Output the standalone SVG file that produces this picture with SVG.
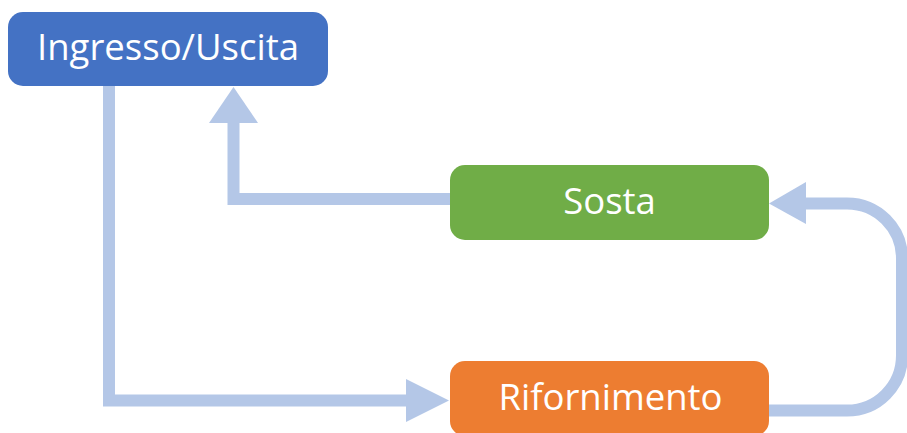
<svg xmlns="http://www.w3.org/2000/svg" width="907" height="433" viewBox="0 0 907 433">
<style>
.lbl{font-family:"Open Sans","Noto Sans","Liberation Sans",sans-serif;font-size:36.5px;fill:#fff;text-anchor:middle}
.con{fill:none;stroke:#B4C7E7;stroke-width:12}
.head{fill:#B4C7E7}
</style>
<rect width="907" height="433" fill="#fff"/>
<g id="connectors">
<path class="con" d="M109,86 V400.5 H410"/>
<polygon class="head" points="406,379 449,400.5 406,422"/>
<path class="con" d="M450,199 H233.5 V120"/>
<polygon class="head" points="209,123 233.5,87 258,123"/>
<path class="con" d="M769,410.5 H847 A55,55 0 0 0 902,355.5 V258.5 A55,55 0 0 0 847,203.5 H802"/>
<polygon class="head" points="806,182 769,203.5 806,224"/>
</g>
<g id="ingresso">
<rect x="8" y="12" width="320" height="74" rx="15" fill="#4472C4"/>
<text class="lbl" x="168" y="60">Ingresso/Uscita</text>
</g>
<g id="sosta">
<rect x="450" y="165" width="319" height="75" rx="15" fill="#70AD47"/>
<text class="lbl" x="609.5" y="214">Sosta</text>
</g>
<g id="rifornimento">
<rect x="450" y="361" width="319" height="75" rx="15" fill="#ED7D31"/>
<text class="lbl" x="610.5" y="410">Rifornimento</text>
</g>
</svg>
